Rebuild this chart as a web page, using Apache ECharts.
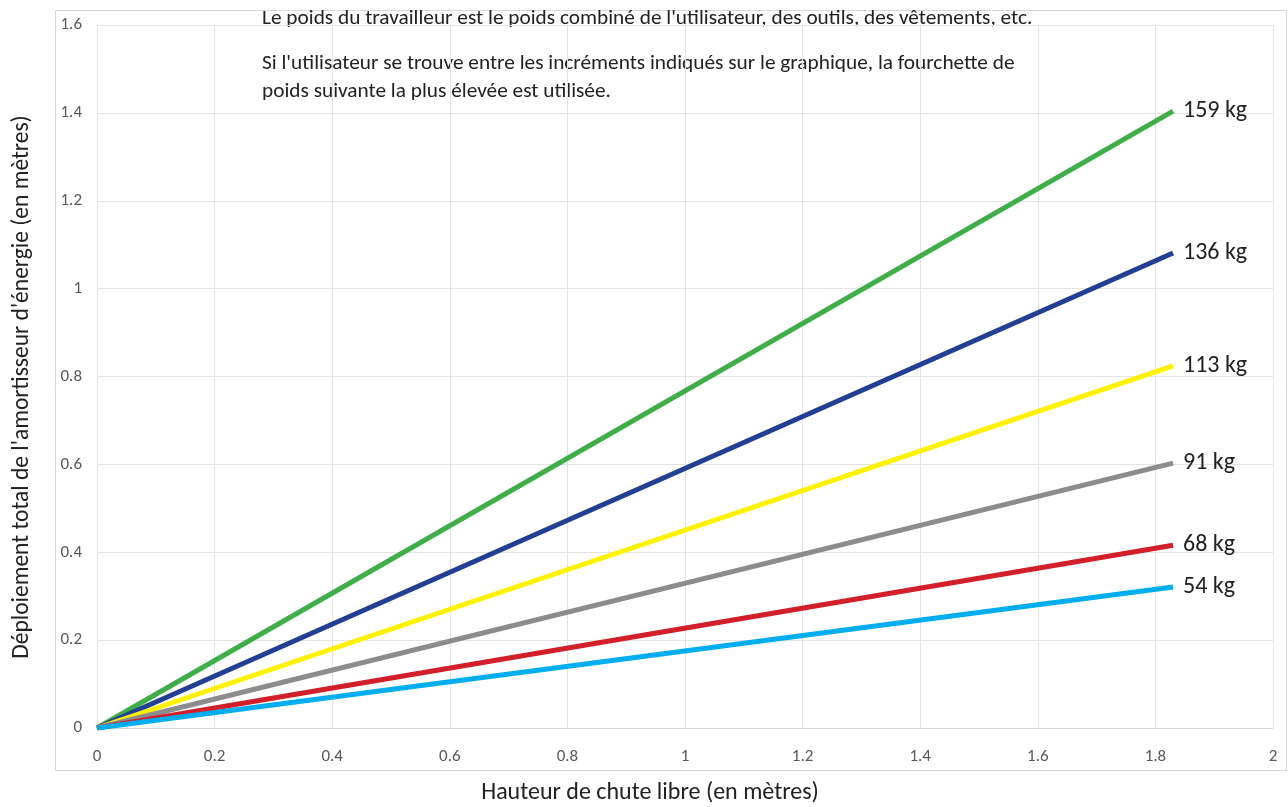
<!DOCTYPE html>
<html><head><meta charset="utf-8">
<script src="https://cdn.jsdelivr.net/npm/echarts@6/dist/echarts.min.js"></script>
<style>html,body{margin:0;padding:0;background:#fff}#c{width:1288px;height:807px}</style>
</head><body><div id="c"></div>
<script>
const seriesNames = ['159 kg','136 kg','113 kg','91 kg','68 kg','54 kg'];
const seriesColors = ['#3fae49','#233f94','#fff200','#8c8c8e','#d21f2a','#00aeef'];
const fallHeights = [0, 1.83];
const deployment159 = [0, 1.404];
const deployment136 = [0, 1.081];
const deployment113 = [0, 0.824];
const deployment91 = [0, 0.603];
const deployment68 = [0, 0.416];
const deployment54 = [0, 0.321];
const allValues = [deployment159, deployment136, deployment113, deployment91, deployment68, deployment54];
const xTicks = [0,0.2,0.4,0.6,0.8,1,1.2,1.4,1.6,1.8,2];
const yTicks = [0,0.2,0.4,0.6,0.8,1,1.2,1.4,1.6];
const xTitle = 'Hauteur de chute libre (en mètres)';
const yTitle = "Déploiement total de l'amortisseur d'énergie (en mètres)";
const noteLine1 = "Le poids du travailleur est le poids combiné de l'utilisateur, des outils, des vêtements, etc.";
const noteLine2 = "Si l'utilisateur se trouve entre les incréments indiqués sur le graphique, la fourchette de\npoids suivante la plus élevée est utilisée.";

const chart = echarts.init(document.getElementById('c'));
const font = 'Carlito, "Open Sans", "Noto Sans", sans-serif';
chart.setOption({
  animation: false,
  backgroundColor: '#fff',
  grid: {left: 97, right: 15, top: 25, bottom: 79, outerBoundsMode: 'none', containLabel: false},
  xAxis: {
    type: 'value', min: 0, max: 2, interval: 0.2,
    axisLine: {show: true, lineStyle: {color: '#d9d9d9', width: 1}},
    axisTick: {show: false},
    splitLine: {show: true, lineStyle: {color: '#e3e3e3', width: 1}},
    axisLabel: {color: '#595959', fontSize: 17, fontFamily: font, margin: 20,
      formatter: v => xTicks.includes(+v.toFixed(1)) ? String(+v.toFixed(1)) : ''}
  },
  yAxis: {
    type: 'value', min: 0, max: 1.6, interval: 0.2,
    axisLine: {show: false},
    axisTick: {show: false},
    splitLine: {show: true, lineStyle: {color: '#e3e3e3', width: 1}},
    axisLabel: {color: '#595959', fontSize: 17, fontFamily: font, margin: 15,
      formatter: v => String(+v.toFixed(1))}
  },
  graphic: [
    {type: 'rect', shape: {x: 55.5, y: 10.5, width: 1231, height: 760}, style: {fill: 'none', stroke: '#d9d9d9', lineWidth: 1}, silent: true, z: -10},
    {type: 'text', left: 262, top: 5, style: {text: noteLine1, fontSize: 21.3, lineHeight: 28, fill: '#222', fontFamily: font}},
    {type: 'text', left: 262, top: 50, style: {text: noteLine2, fontSize: 21.3, lineHeight: 28, fill: '#222', fontFamily: font}},
    {type: 'text', x: 650, y: 793, style: {text: xTitle, fontSize: 24, fill: '#222', fontFamily: font, align: 'center', verticalAlign: 'middle'}},
    {type: 'text', x: 22, y: 387, rotation: Math.PI / 2, style: {text: yTitle, fontSize: 23.5, fill: '#222', fontFamily: font, align: 'center', verticalAlign: 'middle'}}
  ],
  series: seriesNames.map((n, i) => ({
    type: 'line', name: n,
    data: fallHeights.map((x, j) => [x, allValues[i][j]]),
    showSymbol: false,
    lineStyle: {color: seriesColors[i], width: 5},
    itemStyle: {color: seriesColors[i]},
    endLabel: {show: true, formatter: '{a}', fontSize: 24, color: '#222', fontFamily: font, distance: 10},
    z: 2 + i
  }))
});
</script></body></html>
